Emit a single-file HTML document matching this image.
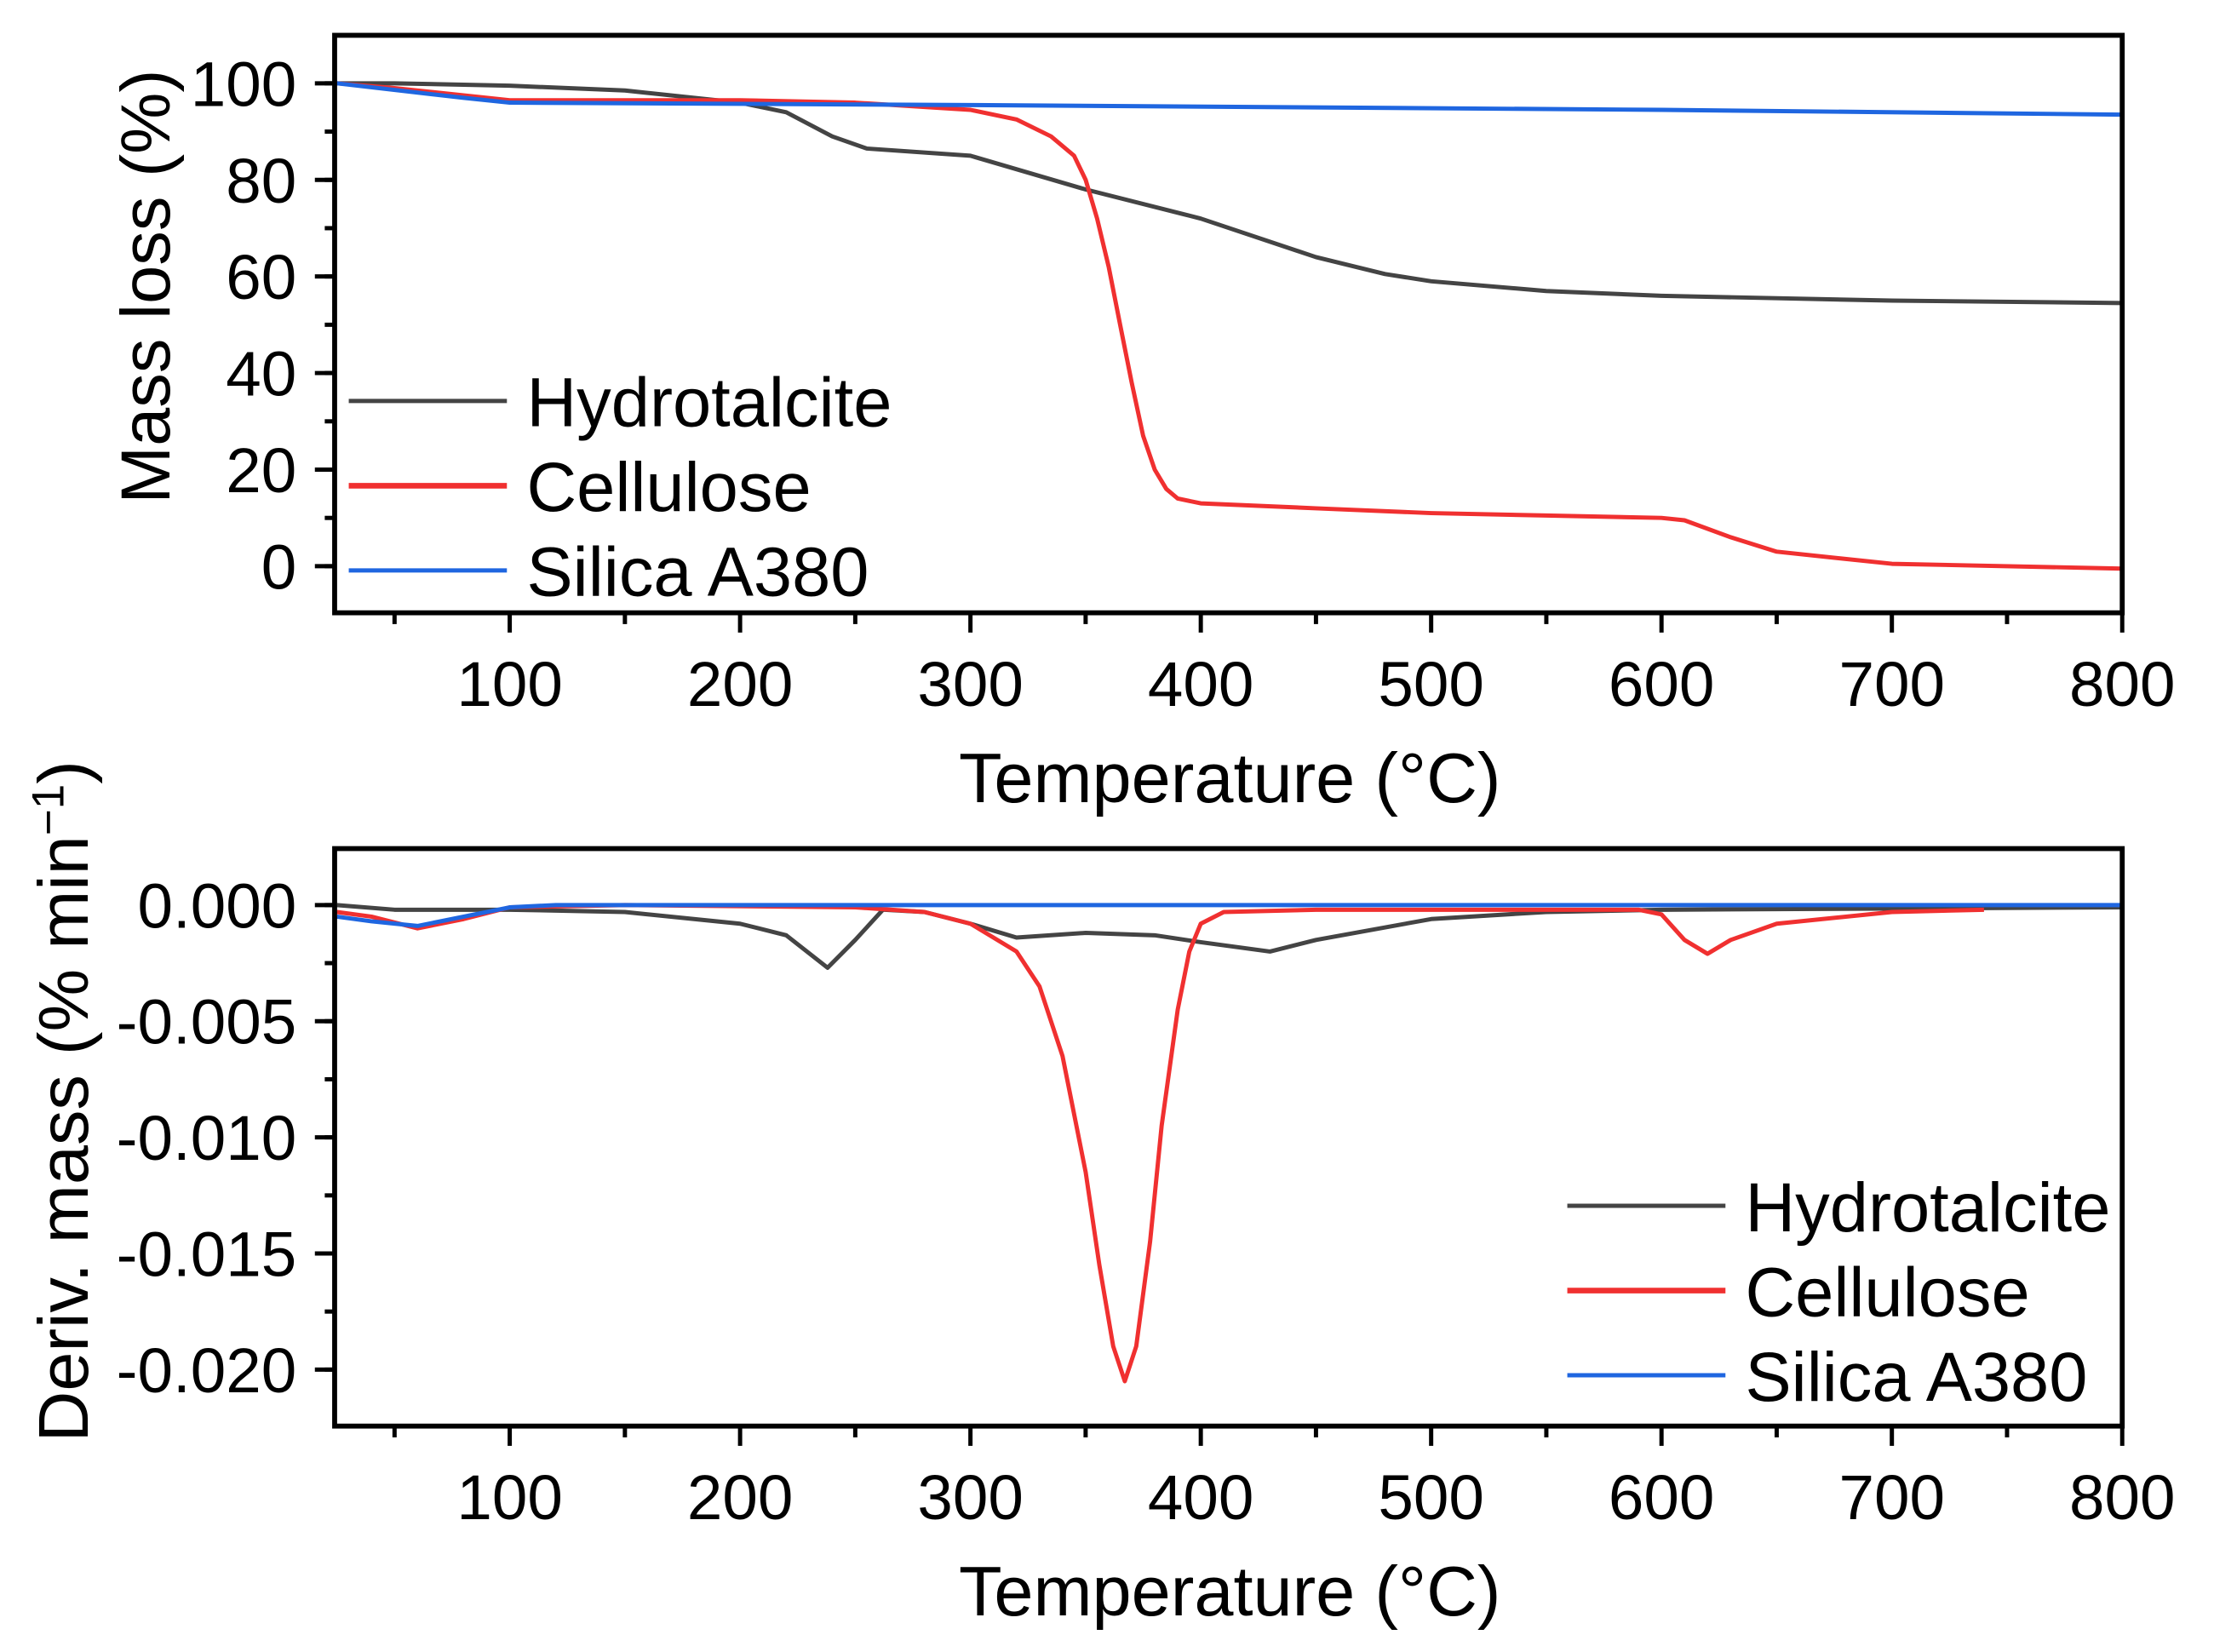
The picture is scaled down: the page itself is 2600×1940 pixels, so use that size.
<!DOCTYPE html>
<html><head><meta charset="utf-8"><style>
html,body{margin:0;padding:0;background:#fff;}
svg{display:block;font-family:"Liberation Sans",sans-serif;}
</style></head><body>
<svg id="fig" width="2600" height="1940" viewBox="0 0 1568 1170" preserveAspectRatio="none" xmlns="http://www.w3.org/2000/svg">
<rect width="1568" height="1170" fill="#fff"/>
<g id="top"></g>
<g id="bot"></g>
</svg>
<script>
const xTicks=[100,200,300,400,500,600,700,800];
const topYTicks=[0,20,40,60,80,100];
const botYTicks=[0,-0.005,-0.010,-0.015,-0.020];
const botYLabels=["0.000","-0.005","-0.010","-0.015","-0.020"];
const seriesNames=["Hydrotalcite","Cellulose","Silica A380"];
const seriesColors=["#444444","#f03030","#1f66e0"];

const hydTopT=[25,50,100,150,200,220,240,255,300,350,400,450,480,500,550,600,650,700,800];
const hydTopV=[100,100,99.5,98.5,96,94,89,86.5,85,78,72,64,60.5,59,57,56,55.5,55,54.5];
const celTopT=[25,50,100,200,250,300,320,335,345,350,355,360,365,370,375,380,385,390,400,450,500,550,600,610,630,650,700,800];
const celTopV=[100,99,96.5,96.5,96,94.5,92.5,89,85,80,72,62,50,38,27,20,16,14,13,12,11,10.5,10,9.5,6,3,0.5,-0.5];
const silTopT=[25,80,100,300,600,800];
const silTopV=[100,97,96,95.5,94.5,93.5];

const hydBotT=[25,50,100,150,200,220,238,250,262,280,300,320,350,380,400,430,450,500,550,600,800];
const hydBotV=[0,-0.0002,-0.0002,-0.0003,-0.0008,-0.0013,-0.0027,-0.0015,-0.0002,-0.0003,-0.0008,-0.0014,-0.0012,-0.0013,-0.0016,-0.0020,-0.0015,-0.0006,-0.0003,-0.0002,-0.0001];
const celBotT=[25,40,60,80,100,150,250,280,300,320,330,340,350,356,362,367,372,378,383,390,395,400,410,450,590,600,610,620,630,650,700,740];
const celBotV=[-0.0003,-0.0005,-0.0010,-0.0006,-0.0001,0,-0.0001,-0.0003,-0.0008,-0.002,-0.0035,-0.0065,-0.0115,-0.0155,-0.019,-0.0205,-0.019,-0.0145,-0.0095,-0.0045,-0.002,-0.0008,-0.0003,-0.0002,-0.0002,-0.0004,-0.0015,-0.0021,-0.0015,-0.0008,-0.0003,-0.0002];
const silBotT=[25,40,60,80,100,120,800];
const silBotV=[-0.0005,-0.0007,-0.0009,-0.0005,-0.0001,0,0];

const NS="http://www.w3.org/2000/svg";
function mk(p,tag,attrs,text){const e=document.createElementNS(NS,tag);for(const k in attrs)e.setAttribute(k,attrs[k]);if(text!==undefined)e.textContent=text;p.appendChild(e);return e;}
const L=237,R=1503;
function xs(t){return 361+(t-100)*(1503-361)/700;}

function panel(g,top,bottom,ys,yTicks,yLabels,minorStep,yMin,yMax,series,legend,ytitle,ytitleX,ytitleY,tfs){
  for(let t=50;t<=800;t+=50){
    const major=t%100===0;
    const tk=mk(g,'line',{x1:xs(t),x2:xs(t),y1:bottom,y2:bottom+(major?14:8),stroke:'#000','stroke-width':3});
    
    
  }
  xTicks.forEach(t=>{
    const tl=mk(g,'text',{x:xs(t),y:bottom+66,'font-size':45,'text-anchor':'middle'},String(t));
    
    
  });
  for(let v=yMin;v<=yMax+1e-9;v+=minorStep){
    const y=ys(v);
    if(y<top+2||y>bottom-2)continue;
    const tk=mk(g,'line',{x1:L-7,x2:L,y1:y,y2:y,stroke:'#000','stroke-width':3});
    
    
  }
  yTicks.forEach((v,i)=>{
    const y=ys(v);
    const tk=mk(g,'line',{x1:L-14,x2:L,y1:y,y2:y,stroke:'#000','stroke-width':3});
    
    
    const tl=mk(g,'text',{x:L-27,y:y+16,'font-size':45,'text-anchor':'end'},yLabels[i]);
    
    
  });
  const xt=mk(g,'text',{x:871,y:bottom+134,'font-size':50,'text-anchor':'middle'},'Temperature (°C)');
  
  
  const yt=mk(g,'text',{x:ytitleX,y:ytitleY,'font-size':tfs,'text-anchor':'middle',transform:`rotate(-90 ${ytitleX} ${ytitleY})`});
  
  
  yt.innerHTML=ytitle;
  series.forEach((s,i)=>{
    let d='';
    s[0].forEach((t,j)=>{d+=(j?'L':'M')+xs(t).toFixed(1)+','+ys(s[1][j]).toFixed(1);});
    const p=mk(g,'path',{d:d,fill:'none',stroke:seriesColors[i],'stroke-width':3,'stroke-linejoin':'round'});
    
    
  });
  const fr=mk(g,'rect',{x:L,y:top,width:R-L,height:bottom-top,fill:'none',stroke:'#000','stroke-width':3.5});
  
  
  seriesNames.forEach((n,i)=>{
    const y=legend.y+i*60;
    const lg=mk(g,'g',{});
    
    
    mk(lg,'line',{x1:legend.x,x2:legend.x+112,y1:y,y2:y,stroke:seriesColors[i],'stroke-width':i===1?4:3});
    mk(lg,'text',{x:legend.x+126,y:y+18,'font-size':49},n);
  });
}
const topYs=v=>401+(v-0)*(59-401)/100;
panel(document.getElementById('top'),25,434,topYs,topYTicks,topYTicks.map(String),10,-10,110,
  [[hydTopT,hydTopV],[celTopT,celTopV],[silTopT,silTopV]],{x:247,y:284},'Mass loss (%)',120,203,49);
const botYs=v=>641+v*(970-641)/(-0.020);
panel(document.getElementById('bot'),601,1010,botYs,botYTicks,botYLabels,0.0025,-0.0225,0.0025,
  [[hydBotT,hydBotV],[celBotT,celBotV],[silBotT,silBotV]],{x:1110,y:854},'Deriv. mass (% min<tspan dy="-17" font-size="32">−1</tspan><tspan dy="17">)</tspan>',62,780,50);
</script>
</body></html>
